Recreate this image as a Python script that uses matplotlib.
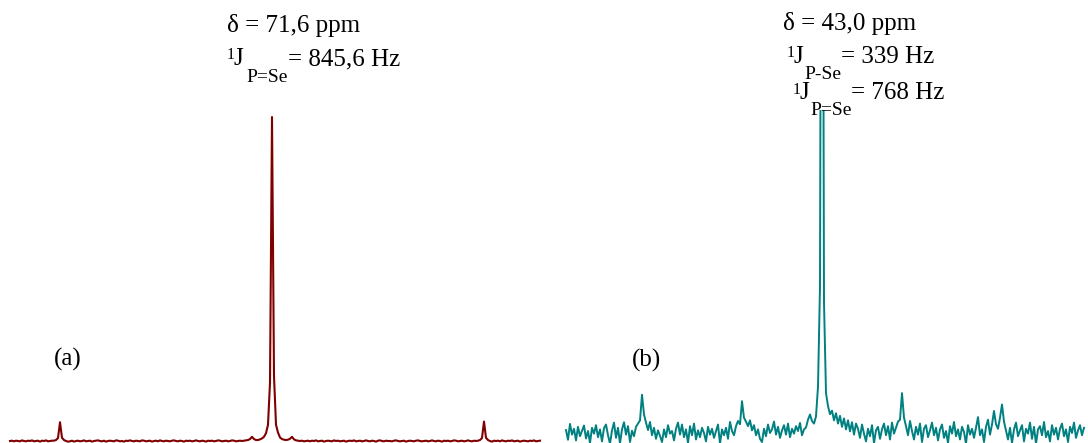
import numpy as np
import matplotlib
matplotlib.use("Agg")
import matplotlib.pyplot as plt

W, H = 1088, 443

# ---- data: 31P NMR spectra (intensity per data point, arbitrary units) ----
spec_a = [
    0.0, 0.1, -0.1, 0.1, 0.0, -0.1, 0.2, 0.0, -0.1, 0.1,
    0.0, 0.2, -0.1, 0.0, 0.1, -0.2, 0.1, 0.0, 0.2, -0.1,
    0.0, 0.1, 0.1, 0.3, 0.9, 5.8, 1.0, 0.3, 0.0, -0.2,
    -0.1, 0.1, -0.2, 0.0, 0.1, -0.1, 0.0, 0.2, -0.1, 0.0,
    0.1, -0.2, 0.0, 0.1, 0.2, 0.0, -0.1, 0.1, -0.2, 0.0,
    0.1, 0.0, -0.1, 0.2, 0.1, -0.1, 0.0, -0.2, 0.1, 0.0,
    0.2, 0.0, -0.1, 0.1, 0.0, -0.1, 0.2, 0.1, -0.1, 0.0,
    0.1, -0.2, 0.0, 0.1, -0.1, 0.2, 0.0, -0.1, 0.1, 0.0,
    -0.1, 0.1, 0.2, 0.0, -0.1, 0.1, 0.0, -0.2, 0.1, 0.0,
    0.1, -0.1, 0.0, 0.2, 0.0, -0.1, 0.1, 0.0, -0.2, 0.1,
    0.0, 0.1, -0.1, 0.0, 0.2, 0.1, -0.1, 0.0, 0.1, -0.1,
    0.0, 0.2, 0.1, -0.1, 0.0, 0.1, 0.0, 0.1, 0.2, 0.3,
    0.6, 1.3, 0.6, 0.3, 0.3, 0.5, 0.8, 1.3, 2.4, 5.0,
    18.0, 100.0, 20.0, 5.0, 2.6, 1.1, 0.6, 0.4, 0.3, 0.4,
    0.7, 1.3, 0.5, 0.2, 0.1, 0.0, 0.1, -0.1, 0.0, 0.1,
    -0.1, 0.1, 0.0, 0.2, -0.1, 0.0, 0.1, -0.2, 0.0, 0.1,
    0.0, -0.1, 0.2, 0.0, 0.1, -0.1, 0.0, 0.1, -0.2, 0.0,
    0.1, 0.0, 0.2, -0.1, 0.0, 0.1, -0.1, 0.0, 0.2, 0.0,
    -0.1, 0.1, 0.0, -0.2, 0.1, 0.2, 0.0, -0.1, 0.1, 0.0,
    0.0, -0.1, 0.1, 0.2, 0.0, -0.1, 0.0, 0.1, -0.2, 0.0,
    0.1, 0.0, -0.1, 0.1, 0.2, 0.0, -0.1, 0.0, 0.1, -0.1,
    0.0, 0.2, 0.0, -0.1, 0.1, 0.0, -0.2, 0.1, 0.0, 0.1,
    -0.1, 0.0, 0.2, 0.1, -0.1, 0.0, 0.1, -0.1, 0.0, 0.2,
    0.0, -0.1, 0.1, 0.0, 0.1, 0.3, 0.9, 6.0, 1.0, 0.3,
    0.0, -0.2, 0.1, 0.0, 0.1, -0.1, 0.2, 0.0, -0.1, 0.1,
    0.0, 0.2, -0.1, 0.0, 0.1, -0.2, 0.0, 0.1, 0.0, -0.1,
    0.1, 0.0, 0.2, -0.1, 0.0, 0.1,
]

spec_b = [
    0.6, -2.4, 2.5, -0.8, 1.0, -2.6, 1.6, -1.3, 0.4, 2.0,
    -2.0, 0.3, -3.4, 1.3, -0.5, 2.1, -1.6, 0.8, -2.9, 1.2,
    2.3, -1.0, -3.6, 0.5, 2.9, -1.8, 1.3, -3.5, 0.8, 3.0,
    -0.8, 1.8, -3.1, 0.4, -1.3, 1.6, 2.6, 3.6, 11.5, 5.4,
    2.9, 0.6, 3.1, -1.0, 1.3, -2.1, 0.5, -1.2, -3.1, 0.8,
    -1.6, 2.1, -0.5, 0.3, -2.6, 1.0, 2.9, -0.8, 2.3, -1.6,
    0.8, -3.4, 1.8, -1.0, 2.6, -2.3, 0.5, -1.6, 1.3, -0.3,
    -2.9, 1.6, -0.8, 1.0, -1.8, 0.3, 2.3, -3.6, 0.8, -1.0,
    1.3, -2.1, 3.1, 0.3, -1.0, 1.8, 3.4, 2.4, 9.5, 4.4,
    3.2, 1.8, 3.6, 0.5, 2.1, -1.0, 0.8, -2.1, -3.1, 1.0,
    -1.3, 2.3, -0.3, 0.8, 3.2, -0.8, 1.6, -1.8, 0.5, 2.1,
    -0.8, 2.6, -1.6, 1.0, -0.5, 1.8, 0.3, 2.8, -1.0, 0.8,
    1.4, 3.8, 5.4, 3.4, 2.6, 4.8, 14.0, 45.0, 300.0, 40.0,
    12.0, 8.0, 5.5, 6.6, 3.6, 5.8, 2.6, 5.0, 1.6, 4.2,
    0.8, 3.6, 0.2, 3.0, -0.8, 2.6, 1.0, -1.8, 2.3, -0.5,
    -2.9, 1.0, -1.3, 2.1, -3.4, 0.5, 1.6, -2.1, 0.8, 2.6,
    -1.0, 1.8, -2.3, 2.9, -0.5, 1.3, 3.2, 3.8, 12.0, 4.4,
    1.8, -1.0, 3.4, 0.3, -2.3, 1.6, -0.8, 2.6, -3.1, 1.0,
    2.1, -1.6, 0.5, 2.9, -1.0, 1.3, -2.6, 0.8, 2.3, -1.8,
    0.3, -3.4, 1.8, -0.5, 3.1, -1.3, 0.8, -2.3, 1.6, 0.0,
    -3.6, 2.1, -0.8, 1.0, -1.8, 1.3, 4.6, -1.0, 0.8, -3.1,
    1.6, 3.8, -0.8, 2.3, 6.5, 2.4, 1.0, 4.4, 8.5, 3.2,
    0.5, -2.3, 1.3, -3.4, 0.8, 2.9, -1.3, 0.5, 2.1, -2.9,
    1.0, -0.5, 2.9, -2.1, 1.6, -3.6, 0.8, 1.8, -1.0, 3.1,
    -1.6, 0.3, -2.9, 2.1, -0.8, 1.3, -2.3, 1.0, 2.6, -1.3,
    0.8, -3.1, 1.6, -0.3, 2.9, -1.8, 0.5, 2.1, -1.0, 1.3,
]

label_a = "(a)"
label_b = "(b)"
delta_a = "δ = 71,6 ppm"
delta_b = "δ = 43,0 ppm"
j_a = ("P=Se", "= 845,6 Hz")
j_b1 = ("P-Se", "= 339 Hz")
j_b2 = ("P=Se", "= 768 Hz")

color_a = "#800000"
color_b = "#008080"

# ---- figure ----
fig = plt.figure(figsize=(W / 100, H / 100), dpi=100)
plt.rcParams["font.family"] = ["Liberation Serif", "DejaVu Serif"]

ppu = 3.24  # pixels per intensity unit

# left panel
ax1 = fig.add_axes([0, 0, 544 / W, 1])
xa = np.arange(len(spec_a))
ax1.plot(xa, spec_a, color=color_a, lw=1.5, clip_on=False)
ax1.set_xlim((0 - 10) / 2, (544 - 10) / 2)
ax1.set_ylim(-(H - 441) / ppu, 441 / ppu)
ax1.axis("off")

# right panel (clipped at the top like the original)
top_px, bot_px, base_px = 110, H + 20, 432
ax2 = fig.add_axes([0.5, 1 - bot_px / H, 0.5, (bot_px - top_px) / H])
xb = np.arange(len(spec_b))
ax2.plot(xb, spec_b, color=color_b, lw=1.4)
ax2.set_xlim((544 - 566) / 2, (1088 - 566) / 2)
ax2.set_ylim(-(bot_px - base_px) / ppu, (base_px - top_px) / ppu)
ax2.axis("off")

FS = 18
FS_SUB = 14
FS_SUP = 11.5


def t(x, y, s, size=FS):
    fig.text(x / W, 1 - y / H, s, fontsize=size, ha="left", va="baseline",
             color="black")


# left annotations
t(227, 32, delta_a)
t(227, 59, "1", FS_SUP)
t(234, 65, "J")
t(246, 82, j_a[0], FS_SUB)
t(288, 65, j_a[1])

# right annotations
t(783, 30, delta_b)
t(787, 57, "1", FS_SUP)
t(794, 63, "J")
t(804, 79, j_b1[0], FS_SUB)
t(841, 63, j_b1[1])

t(793, 94, "1", FS_SUP)
t(799, 99, "J")
t(810, 115, j_b2[0], FS_SUB)
t(851, 99, j_b2[1])

t(54, 366, label_a)
t(632, 367, label_b)

fig.savefig("out.png", dpi=100)
